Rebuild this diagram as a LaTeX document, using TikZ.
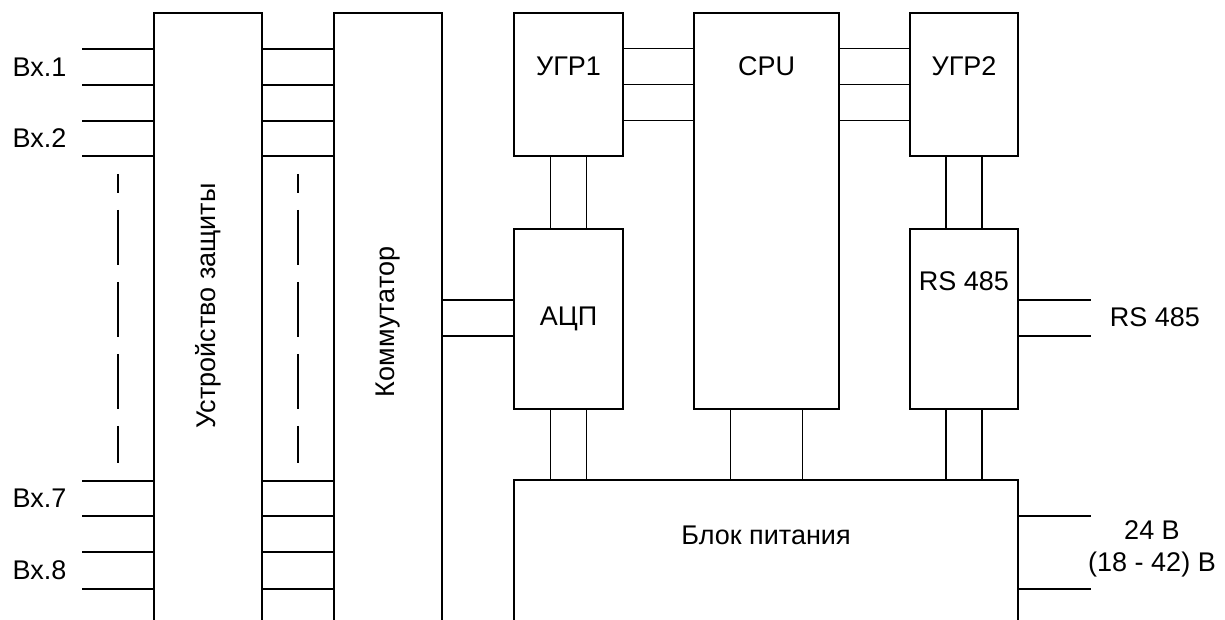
\documentclass[tikz,border=0pt]{standalone}
\usepackage{fontspec}
\setmainfont{Liberation Sans}

\begin{document}
\begin{tikzpicture}[
    x=1pt, y=1pt,
    line width=1.2pt,
    every node/.style={font=\fontsize{27}{32}\selectfont},
    blk/.style={draw, outer sep=0pt, inner sep=0pt},
    txt/.style={inner sep=0pt},
    toplbl/.style={txt, anchor=north, yshift=-43pt},
    gapdash/.style={dash pattern=on 55pt off 17pt, dash phase=36pt}
  ]
  \clip (0,0) rectangle (1225,620);

  \node[blk, minimum width=108pt, minimum height=627pt] (prot) at (208,293.5) {};
  \node[txt, rotate=90] (protlbl) at (208,314) {Устройство защиты};
  \node[blk, minimum width=108pt, minimum height=627pt] (comm) at (388,293.5) {};
  \node[txt, rotate=90] (commlbl) at (388,298) {Коммутатор};

  \node[blk, minimum width=109pt, minimum height=143pt,
        label={[toplbl]north:УГР1}] (ugr1) at (568.5,535.5) {};
  \node[blk, minimum width=145pt, minimum height=396pt,
        label={[toplbl]north:CPU}] (cpu) at (766.5,409) {};
  \node[blk, minimum width=108pt, minimum height=143pt,
        label={[toplbl]north:УГР2}] (ugr2) at (964,535.5) {};
  \node[blk, minimum width=109pt, minimum height=180pt] (adc) at (568.5,301) {АЦП};
  \node[blk, minimum width=108pt, minimum height=180pt,
        label={[toplbl, yshift=1pt]north:RS 485}] (rs) at (964,301) {};
  \node[blk, minimum width=504pt, minimum height=160pt,
        label={[toplbl, yshift=-2pt]north:Блок питания}] (psu) at (766,60) {};

  % inputs
  \node[txt, anchor=west] (in1) at (12,553) {Вх.1};
  \node[txt, anchor=west] (in2) at (12,481.5) {Вх.2};
  \node[txt, anchor=west] (in7) at (12,121.5) {Вх.7};
  \node[txt, anchor=west] (in8) at (12,49.5) {Вх.8};
  \foreach \y in {571,535,499,464,139,104,68,31} {
    \draw (prot.west |- 0,\y) -- ++(-72,0);
    \draw (prot.east |- 0,\y) -- (comm.west |- 0,\y);
  }
  \draw[gapdash] (118,446) -- (118,157);
  \draw[gapdash] (298,446) -- (298,157);

  \foreach \d in {-36,0,36}
    \draw ([yshift=\d pt]ugr1.east) -- ([yshift=\d pt]ugr1.east -| cpu.west);
  \foreach \d in {-36,0,36}
    \draw ([yshift=\d pt]ugr2.west) -- ([yshift=\d pt]ugr2.west -| cpu.east);
  \foreach \d in {-18,18} {
    \draw (comm.east |- 0,302+\d) -- (adc.west |- 0,302+\d);
    \draw ([xshift=\d pt]ugr1.south) -- ([xshift=\d pt]adc.north);
    \draw ([xshift=\d pt]ugr2.south) -- ([xshift=\d pt]rs.north);
    \draw ([xshift=\d pt]adc.south) -- ([xshift=\d pt]adc.south |- psu.north);
    \draw ([xshift=\d pt]rs.south) -- ([xshift=\d pt]rs.south |- psu.north);
  }
  \foreach \d in {-36,36}
    \draw ([xshift=\d pt]cpu.south) -- ([xshift=\d pt]cpu.south |- psu.north);

  % outputs
  \draw (rs.east |- 0,320) -- ++(73,0);
  \draw (rs.east |- 0,284) -- ++(73,0);
  \node[txt] (rsout) at (1155,303) {RS 485};
  \draw (psu.east |- 0,104) -- ++(73,0);
  \draw (psu.east |- 0,31) -- ++(73,0);
  \node[txt, align=center] (pwr) at (1152,71) {24 В\\(18 - 42) В};
\end{tikzpicture}
\end{document}
